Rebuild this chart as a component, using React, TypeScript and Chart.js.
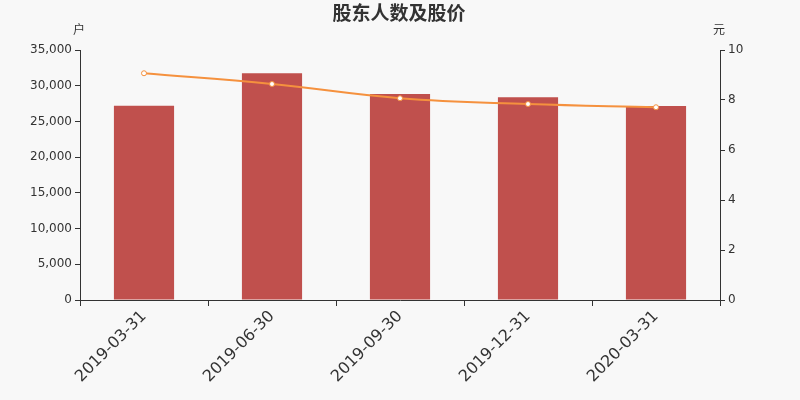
import React, { useEffect, useRef } from "react";
import { Chart, registerables } from "chart.js";

Chart.register(...registerables);

const categories = ["2019-03-31", "2019-06-30", "2019-09-30", "2019-12-31", "2020-03-31"];
const holders = [27200, 31740, 28840, 28370, 27160];
const prices = [9.07, 8.64, 8.07, 7.84, 7.71];
const titleText = "股东人数及股价";
const leftUnit = "户";
const rightUnit = "元";

const textPlugin = {
  id: "textPlugin",
  beforeDraw(chart: any) {
    const ctx = chart.ctx;
    ctx.save();
    ctx.fillStyle = "#f8f8f8";
    ctx.fillRect(0, 0, chart.width, chart.height);
    ctx.restore();
  },
  afterDraw(chart: any) {
    const ctx = chart.ctx;
    ctx.save();
    ctx.fillStyle = "#333";
    ctx.textAlign = "center";
    ctx.textBaseline = "middle";
    ctx.font = "bold 19px 'Noto Sans CJK SC', sans-serif";
    ctx.fillText(titleText, 399, 13);
    ctx.font = "12px 'Noto Sans CJK SC', sans-serif";
    ctx.fillText(leftUnit, 79, 29);
    ctx.fillText(rightUnit, 719, 29);
    ctx.restore();
  },
};

export default function App() {
  const ref = useRef<HTMLCanvasElement>(null);
  useEffect(() => {
    const chart = new Chart(ref.current!, {
      type: "bar",
      data: {
        labels: categories,
        datasets: [
          {
            type: "line",
            data: prices,
            yAxisID: "y1",
            borderColor: "#f5913e",
            borderWidth: 2,
            tension: 0.4,
            pointRadius: 2.5,
            pointBorderWidth: 1,
            pointBackgroundColor: "#ffffff",
            pointBorderColor: "#f5913e",
            order: 0,
          } as any,
          {
            type: "bar",
            data: holders,
            yAxisID: "y",
            backgroundColor: "#c0504d",
            barPercentage: 0.47,
            categoryPercentage: 1,
            order: 1,
          },
        ],
      },
      options: {
        responsive: false,
        animation: false,
        layout: { padding: { top: 50, left: 0, right: 0, bottom: 0 } },
        plugins: { legend: { display: false }, tooltip: { enabled: false }, title: { display: false } },
        scales: {
          x: {
            offset: true,
            grid: { display: true, drawOnChartArea: false, offset: true, tickLength: 6, color: "#333" },
            border: { color: "#333" },
            ticks: {
              minRotation: 45,
              maxRotation: 45,
              color: "#333",
              font: { size: 16, family: "'DejaVu Sans', sans-serif" },
              padding: 1,
            },
            afterFit(scale: any) {
              scale.height = 100;
            },
          },
          y: {
            position: "left",
            min: 0,
            max: 35000,
            grid: { display: true, drawOnChartArea: false, tickLength: 5, color: "#333" },
            border: { color: "#333" },
            ticks: {
              stepSize: 5000,
              color: "#333",
              font: { size: 12, family: "'DejaVu Sans', sans-serif" },
              padding: 3,
              callback: (v: any) => Number(v).toLocaleString("en-US"),
            },
            afterFit(scale: any) {
              scale.width = 80;
            },
          },
          y1: {
            position: "right",
            min: 0,
            max: 10,
            grid: { display: true, drawOnChartArea: false, tickLength: 5, color: "#333" },
            border: { color: "#333" },
            ticks: {
              stepSize: 2,
              color: "#333",
              font: { size: 12, family: "'DejaVu Sans', sans-serif" },
              padding: 3,
            },
            afterFit(scale: any) {
              scale.width = 80;
            },
          },
        },
      },
      plugins: [textPlugin],
    });
    return () => chart.destroy();
  }, []);
  return (
    <div style={{ position: "fixed", left: 0, top: 0, width: 800, height: 400 }}>
      <canvas ref={ref} width={800} height={400} />
    </div>
  );
}
